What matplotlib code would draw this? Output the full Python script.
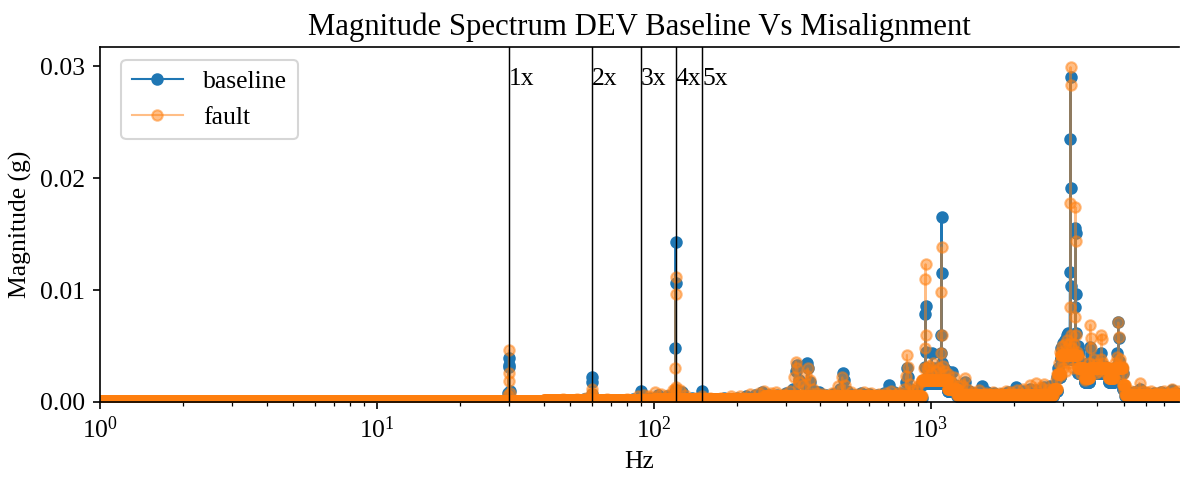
import numpy as np
import matplotlib
matplotlib.use('Agg')
import matplotlib.pyplot as plt

plt.rcParams['font.family'] = 'serif'
plt.rcParams['font.serif'] = ['Liberation Serif', 'DejaVu Serif']
plt.rcParams['mathtext.fontset'] = 'custom'
plt.rcParams['mathtext.rm'] = 'Liberation Serif'
plt.rcParams['mathtext.it'] = 'Liberation Serif:italic'
plt.rcParams['font.size'] = 12.3

# running speed harmonics (1x = 30 Hz)
harm_hz = [30, 60, 90, 120, 150]
harm_lbl = ['1x', '2x', '3x', '4x', '5x']

# display bins and the noise floor level of each band
bin_hz = np.geomspace(1, 7900, 3000)
floor_edges = [1, 40, 100, 250, 930, 1150, 1250, 2780, 2870, 2950, 3400, 3600, 3750,
               4400, 4600, 4950, 5050]
floor_base = [0.00004, 0.00012, 0.00025, 0.0004, 0.0017, 0.0010, 0.0005, 0.0010, 0.0022,
              0.0038, 0.0026, 0.0018, 0.0026, 0.0018, 0.0026, 0.0012, 0.0005]
floor_fault = [0.00006, 0.00015, 0.0003, 0.0005, 0.0020, 0.0012, 0.0006, 0.0012, 0.0025,
               0.0042, 0.0030, 0.0021, 0.0030, 0.0021, 0.0030, 0.0015, 0.0006]

# baseline spectrum, points
base_hz = [29.8, 29.9, 30.0, 30.1, 30.2, 47, 52, 56, 59.9, 60.0, 60.1, 66, 75, 84,
           90, 97, 104, 112, 119.8, 119.9, 120.0, 120.1, 120.2, 127, 138, 150,
           165, 180, 200, 215, 232, 247, 262, 280, 300, 318, 327, 330, 335, 350,
           358, 362, 368, 380, 395, 420, 445, 470, 482, 486, 500, 530, 560, 600,
           640, 680, 710, 740, 780, 815, 825, 830, 845, 870, 900, 930, 955, 958,
           960, 962, 975, 990, 1010, 1030, 1060, 1090, 1093, 1096, 1098, 1100,
           1120, 1150, 1180, 1200, 1230, 1270, 1330, 1380, 1450, 1540, 1600, 1700,
           1800, 1900, 2030, 2150, 2280, 2400, 2580, 2700, 2800, 2880, 2950, 3000,
           3050, 3100, 3150, 3190, 3200, 3205, 3210, 3215, 3250, 3300, 3330, 3340,
           3345, 3350, 3360, 3400, 3450, 3540, 3650, 3700, 3780, 3790, 3850, 3950,
           4050, 4146, 4250, 4430, 4600, 4700, 4770, 4780, 4800, 4900, 5020, 5200,
           5450, 5700, 6000, 6400, 6800, 7150, 7440, 7700]
base_g = [0.0008, 0.0033, 0.0039, 0.0031, 0.0010, 0.0002, 0.0002, 0.0003, 0.0018,
          0.0022, 0.0007, 0.0002, 0.0002, 0.0003, 0.0010, 0.0004, 0.0006, 0.0005,
          0.0009, 0.0048, 0.0143, 0.0106, 0.0011, 0.0009, 0.0004, 0.0010, 0.0003,
          0.0004, 0.0004, 0.0005, 0.0006, 0.0009, 0.0006, 0.0006, 0.0008, 0.0012,
          0.0028, 0.0033, 0.0020, 0.0016, 0.0035, 0.0030, 0.0018, 0.0010, 0.0009,
          0.0006, 0.0007, 0.0012, 0.0026, 0.0020, 0.0010, 0.0006, 0.0008, 0.0007,
          0.0006, 0.0008, 0.0015, 0.0009, 0.0008, 0.0018, 0.0030, 0.0022, 0.0012,
          0.0009, 0.0011, 0.0015, 0.0031, 0.0079, 0.0086, 0.0045, 0.0020, 0.0026,
          0.0044, 0.0030, 0.0025, 0.0044, 0.0060, 0.0165, 0.0115, 0.0035, 0.0030,
          0.0028, 0.0020, 0.0027, 0.0015, 0.0012, 0.0018, 0.0010, 0.0008, 0.0014,
          0.0009, 0.0008, 0.0007, 0.0009, 0.0013, 0.0010, 0.0012, 0.0011, 0.0013,
          0.0014, 0.0012, 0.0030, 0.0048, 0.0053, 0.0055, 0.0060, 0.0062, 0.0116,
          0.0235, 0.0290, 0.0191, 0.0104, 0.0055, 0.0060, 0.0085, 0.0155, 0.0151,
          0.0096, 0.0062, 0.0050, 0.0045, 0.0030, 0.0022, 0.0035, 0.0049, 0.0042,
          0.0032, 0.0030, 0.0040, 0.0044, 0.0032, 0.0022, 0.0030, 0.0044, 0.0071,
          0.0057, 0.0037, 0.0030, 0.0012, 0.0008, 0.0009, 0.0012, 0.0008, 0.0008,
          0.0009, 0.0008, 0.0011, 0.0008]

# misalignment spectrum
fault_hz = [29.8, 29.9, 30.0, 30.1, 30.2, 47, 53, 57, 59.9, 60.0, 60.1, 68, 80, 88,
            92, 96, 101, 106, 113, 117, 119.8, 119.9, 120.0, 120.1, 120.2, 124,
            130, 142, 150, 160, 175, 190, 205, 222, 240, 250, 265, 277, 295, 310,
            322, 326, 330, 336, 345, 355, 360, 366, 375, 390, 410, 440, 465, 480,
            490, 515, 545, 575, 610, 650, 690, 720, 760, 800, 818, 822, 828, 840,
            865, 895, 925, 945, 956, 958, 960, 963, 972, 985, 1000, 1020, 1045,
            1070, 1090, 1094, 1096, 1098, 1105, 1130, 1160, 1190, 1220, 1260, 1300,
            1327, 1360, 1420, 1500, 1580, 1680, 1780, 1880, 1960, 2050, 2150, 2280,
            2400, 2500, 2580, 2680, 2780, 2850, 2900, 2930, 2960, 2990, 3020, 3050,
            3080, 3110, 3140, 3170, 3195, 3200, 3205, 3210, 3215, 3240, 3270, 3300,
            3330, 3340, 3345, 3350, 3380, 3420, 3460, 3500, 3560, 3620, 3680, 3740,
            3780, 3785, 3790, 3830, 3880, 3950, 4000, 4060, 4120, 4146, 4155, 4200,
            4280, 4350, 4430, 4500, 4580, 4650, 4720, 4770, 4780, 4830, 4900, 4970,
            5020, 5150, 5300, 5500, 5690, 5850, 6050, 6250, 6500, 6750, 7000, 7200,
            7440, 7650, 7850]
fault_g = [0.0006, 0.0026, 0.0046, 0.0019, 0.0008, 0.0003, 0.0003, 0.0004, 0.0008,
           0.0012, 0.0006, 0.0003, 0.0003, 0.0005, 0.0006, 0.0005, 0.0009, 0.0007,
           0.0006, 0.0011, 0.0012, 0.0030, 0.0112, 0.0096, 0.0013, 0.0011, 0.0006,
           0.0004, 0.0005, 0.0004, 0.0004, 0.0005, 0.0005, 0.0007, 0.0008, 0.0010,
           0.0008, 0.0009, 0.0007, 0.0010, 0.0022, 0.0036, 0.0030, 0.0018, 0.0015,
           0.0024, 0.0030, 0.0020, 0.0012, 0.0008, 0.0007, 0.0008, 0.0014, 0.0022,
           0.0015, 0.0009, 0.0007, 0.0009, 0.0008, 0.0007, 0.0008, 0.0010, 0.0008,
           0.0012, 0.0023, 0.0042, 0.0031, 0.0016, 0.0011, 0.0013, 0.0018, 0.0030,
           0.0048, 0.0110, 0.0123, 0.0060, 0.0030, 0.0032, 0.0025, 0.0035, 0.0028,
           0.0030, 0.0044, 0.0098, 0.0138, 0.0060, 0.0032, 0.0028, 0.0025, 0.0018,
           0.0022, 0.0014, 0.0015, 0.0021, 0.0012, 0.0009, 0.0011, 0.0008, 0.0009,
           0.0008, 0.0010, 0.0009, 0.0011, 0.0012, 0.0015, 0.0017, 0.0013, 0.0016,
           0.0012, 0.0011, 0.0020, 0.0035, 0.0045, 0.0024, 0.0050, 0.0030, 0.0052,
           0.0028, 0.0055, 0.0035, 0.0052, 0.0085, 0.0178, 0.0299, 0.0283, 0.0060,
           0.0048, 0.0030, 0.0052, 0.0076, 0.0174, 0.0144, 0.0060, 0.0045, 0.0030,
           0.0038, 0.0025, 0.0028, 0.0020, 0.0026, 0.0035, 0.0069, 0.0057, 0.0048,
           0.0030, 0.0038, 0.0026, 0.0034, 0.0028, 0.0038, 0.0060, 0.0056, 0.0035,
           0.0030, 0.0025, 0.0021, 0.0026, 0.0030, 0.0035, 0.0040, 0.0071, 0.0058,
           0.0038, 0.0032, 0.0025, 0.0011, 0.0008, 0.0010, 0.0009, 0.0017, 0.0010,
           0.0009, 0.0010, 0.0008, 0.0009, 0.0010, 0.0008, 0.0012, 0.0009, 0.0010]


def spectrum(hz, g, levels):
    band = np.searchsorted(floor_edges, bin_hz, side='right') - 1
    f = np.concatenate([bin_hz, hz])
    m = np.concatenate([np.asarray(levels)[band], g])
    order = np.argsort(f, kind='stable')
    return f[order], m[order]


fb, mb = spectrum(base_hz, base_g, floor_base)
ff, mf = spectrum(fault_hz, fault_g, floor_fault)

fig = plt.figure(figsize=(1180 / 150, 485 / 150), dpi=150)
ax = fig.add_axes([100 / 1180, 83 / 485, 1079 / 1180, 355 / 485])

ax.plot(fb, mb, marker='o', ms=5, lw=1, color='tab:blue', label='baseline')
ax.plot(ff, mf, marker='o', ms=5, lw=1, color='tab:orange', alpha=0.5, label='fault')

for f, lbl in zip(harm_hz, harm_lbl):
    ax.axvline(f, color='k', lw=0.7)
    ax.text(f, 0.0283, lbl)

ax.set_xscale('log')
ax.set_xlim(1, 7900)
ax.set_ylim(0, 0.0317)
ax.set_yticks([0, 0.01, 0.02, 0.03])
ax.set_xlabel('Hz')
ax.set_ylabel('Magnitude (g)')
ax.set_title('Magnitude Spectrum DEV Baseline Vs Misalignment')
ax.spines['right'].set_visible(False)
ax.legend(loc='upper left', bbox_to_anchor=(0.008, 1.0))

fig.savefig('out.png', dpi=150)
